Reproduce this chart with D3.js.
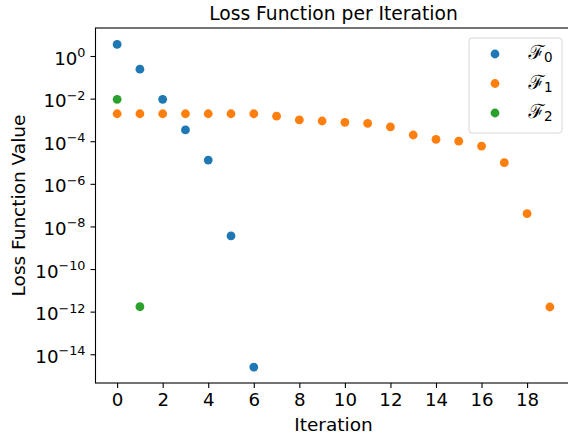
<!DOCTYPE html>
<html>
<head>
<meta charset="utf-8">
<script src="https://cdn.jsdelivr.net/npm/d3@7"></script>
<style>
  html, body { margin: 0; padding: 0; background: #fff; }
  svg { display: block; font-family: "DejaVu Sans", sans-serif; }
</style>
</head>
<body>
<svg id="chart" width="568" height="439"></svg>
<script>
// ---- data ----
const iterations = d3.range(0, 20);
const f0Iter = [0, 1, 2, 3, 4, 5, 6];
const f0Values = [3.5, 0.24, 0.0093, 3.4e-4, 1.3e-5, 3.6e-9, 2.5e-15];
const f1Iter = iterations;
const f1Values = [1.95e-3, 1.95e-3, 1.95e-3, 1.95e-3, 1.95e-3, 1.95e-3, 1.95e-3, 1.5e-3, 1.0e-3, 8.9e-4,
                  7.7e-4, 6.9e-4, 4.7e-4, 1.96e-4, 1.23e-4, 1.0e-4, 5.9e-5, 9.8e-6, 4.0e-8, 1.65e-12];
const f2Iter = [0, 1];
const f2Values = [0.0093, 1.7e-12];
const seriesNames = ["0", "1", "2"]; // subscripts of script F
const seriesColors = ["#1f77b4", "#ff7f0e", "#2ca02c"];
const xTickValues = [0, 2, 4, 6, 8, 10, 12, 14, 16, 18];
const yTickExponents = [0, -2, -4, -6, -8, -10, -12, -14];
const titleText = "Loss Function per Iteration";
const xLabelText = "Iteration";
const yLabelText = "Loss Function Value";

// ---- layout ----
const pLeft = 95.5, pRight = 571.5, pTop = 28, pBottom = 383;
const svg = d3.select("#chart");

const x = d3.scaleLinear().domain([-0.95, 19.95]).range([pLeft, pRight]);
const y = d3.scaleLog().domain([Math.pow(10, 1.315), Math.pow(10, -15.35)]).range([pTop, pBottom]);

// frame
svg.append("rect")
  .attr("x", pLeft).attr("y", pTop)
  .attr("width", pRight - pLeft).attr("height", pBottom - pTop)
  .attr("fill", "none").attr("stroke", "#000").attr("stroke-width", 1.1);

// x axis
const xAxis = svg.append("g")
  .attr("transform", `translate(0,${pBottom})`)
  .call(d3.axisBottom(x).tickValues(xTickValues).tickSize(5).tickPadding(5.5).tickFormat(d3.format("d")));
xAxis.select(".domain").remove();
xAxis.selectAll("line").attr("stroke", "#000").attr("stroke-width", 1.1);
xAxis.selectAll("text").attr("font-size", 18.2).attr("fill", "#000")
  .attr("font-family", "DejaVu Sans");

// y axis
const yAxis = svg.append("g")
  .attr("transform", `translate(${pLeft},0)`)
  .call(d3.axisLeft(y).tickValues(yTickExponents.map(e => Math.pow(10, e))).tickSize(5).tickPadding(5).tickFormat(() => ""));
yAxis.select(".domain").remove();
yAxis.selectAll("line").attr("stroke", "#000").attr("stroke-width", 1.1);
yAxis.selectAll(".tick text").each(function(d) {
  const e = Math.round(Math.log10(d));
  const t = d3.select(this)
    .attr("font-family", "DejaVu Sans")
    .attr("fill", "#000")
    .attr("dy", null)
    .attr("y", 8)
    .attr("text-anchor", "end");
  t.append("tspan").attr("font-size", 18.2).text("10");
  t.append("tspan").attr("font-size", 12.8).attr("dy", -7.5)
    .text(e < 0 ? "\u2212" + Math.abs(e) : String(e));
});

// title and labels
svg.append("text").attr("x", (pLeft + pRight) / 2).attr("y", 20)
  .attr("text-anchor", "middle").attr("font-size", 18.7).attr("fill", "#000").text(titleText);
svg.append("text").attr("x", (pLeft + pRight) / 2).attr("y", 431)
  .attr("text-anchor", "middle").attr("font-size", 18.5).attr("fill", "#000").text(xLabelText);
svg.append("text").attr("transform", `translate(24.5,${(pTop + pBottom) / 2}) rotate(-90)`)
  .attr("text-anchor", "middle").attr("font-size", 18.5).attr("fill", "#000").text(yLabelText);

// points
const series = [
  { it: f0Iter, vals: f0Values },
  { it: f1Iter, vals: f1Values },
  { it: f2Iter, vals: f2Values }
];
const plot = svg.append("g");
series.forEach((s, i) => {
  plot.selectAll(null)
    .data(s.vals.map((v, j) => [s.it[j], v]))
    .enter().append("circle")
    .attr("cx", d => x(d[0]))
    .attr("cy", d => y(d[1]))
    .attr("r", 4.4)
    .attr("fill", seriesColors[i]);
});

// legend
const lg = svg.append("g");
lg.append("rect").attr("x", 469).attr("y", 38).attr("width", 93).attr("height", 95)
  .attr("rx", 3).attr("fill", "#fff").attr("fill-opacity", 0.8)
  .attr("stroke", "#d6d6d6").attr("stroke-width", 1);
seriesNames.forEach((n, i) => {
  const cy = 54 + i * 29.5;
  lg.append("circle").attr("cx", 495).attr("cy", cy).attr("r", 4.4).attr("fill", seriesColors[i]);
  const t = lg.append("text").attr("x", 528).attr("y", cy + 5).attr("fill", "#000");
  t.append("tspan").attr("font-size", 19.5).attr("font-style", "italic")
    .attr("font-family", "'DejaVu Serif', 'Noto Sans', serif").text("\u2131");
  t.append("tspan").attr("font-size", 13.5).attr("dy", 3).text(n);
});
</script>
</body>
</html>
